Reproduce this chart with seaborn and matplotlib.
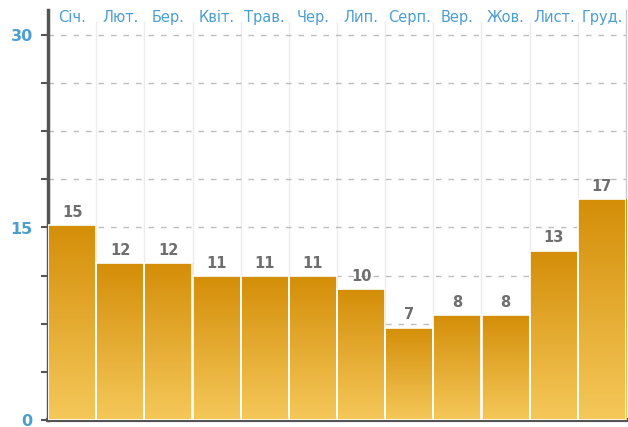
import numpy as np
import pandas as pd
import matplotlib
matplotlib.use("Agg")
import matplotlib.pyplot as plt
import seaborn as sns
from matplotlib.colors import LinearSegmentedColormap

months = ["Січ.", "Лют.", "Бер.", "Квіт.", "Трав.", "Чер.", "Лип.", "Серп.", "Вер.", "Жов.", "Лист.", "Груд."]
values = [15.2, 12.2, 12.2, 11.2, 11.2, 11.2, 10.2, 7.2, 8.2, 8.2, 13.2, 17.2]
labels = ["15", "12", "12", "11", "11", "11", "10", "7", "8", "8", "13", "17"]
y_major = [0, 15, 30]

sns.set_style("white")
plt.rcParams['font.family'] = ['DejaVu Sans']

fig = plt.figure(figsize=6.28 * np.array([1, 427 / 628]), dpi=100)
ax = fig.add_axes([48 / 628, 7 / 427, (626 - 48) / 628, (420 - 10) / 427])

df = pd.DataFrame({"month": months, "value": values})
sns.barplot(data=df, x="month", y="value", ax=ax, width=1.0, color="#e0a020",
            edgecolor="white", linewidth=1.2, zorder=3)

ymax = 30 * 410 / 385
ax.set_ylim(0, ymax)
ax.set_xlim(-0.5, len(months) - 0.5)

cmap = LinearSegmentedColormap.from_list("g", ["#f5c85a", "#d48e08"])
grad = np.linspace(0, 1, 256).reshape(-1, 1)
for p in ax.patches:
    x0, y0 = p.get_x(), p.get_y()
    w, h = p.get_width(), p.get_height()
    im = ax.imshow(grad, extent=[x0, x0 + w, y0, y0 + h], origin="lower",
                   cmap=cmap, aspect="auto", zorder=3.5)
    im.set_clip_path(p)
    p.set_facecolor("none")
    p.set_zorder(4)

ax.set_xlim(-0.5, len(months) - 0.5)
ax.set_ylim(0, ymax)

# vertical separators
for i in range(len(months)):
    ax.axvline(i + 0.5, ymin=0, ymax=31.0 / ymax, color="#ececec", lw=1, zorder=1)

# horizontal dashed grid
minor = np.arange(3.75, 30.01, 3.75)
for yv in minor:
    ax.axhline(yv, color="#bdbdbd", lw=1, ls=(0, (4, 5)), zorder=2)

ax.set_yticks(y_major)
ax.set_yticklabels([str(v) for v in y_major], fontsize=11.5, fontweight="bold", color="#4a9fd0")
ax.set_yticks(np.arange(0, 30.01, 3.75), minor=True)
ax.tick_params(axis="y", which="both", length=5, width=1.5, color="#555555", left=True, pad=6)
ax.tick_params(axis="x", bottom=False, labelbottom=False)
ax.set_xlabel("")
ax.set_ylabel("")

ax.spines["top"].set_visible(False)
ax.spines["right"].set_color("#cccccc")
ax.spines["right"].set_linewidth(1)
ax.spines["left"].set_color("#555555")
ax.spines["left"].set_linewidth(2.5)
ax.spines["bottom"].set_color("#555555")
ax.spines["bottom"].set_linewidth(3)

for i, (v, lab) in enumerate(zip(values, labels)):
    ax.text(i, v + 0.4, lab, ha="center", va="bottom", fontsize=10.5,
            fontweight="bold", color="#6e6e6e", zorder=6)

for i, m in enumerate(months):
    ax.text(i, 31.35, m, ha="center", va="center", fontsize=10.5, color="#4a9fd0", zorder=6)

fig.savefig("out.png", dpi=100)
